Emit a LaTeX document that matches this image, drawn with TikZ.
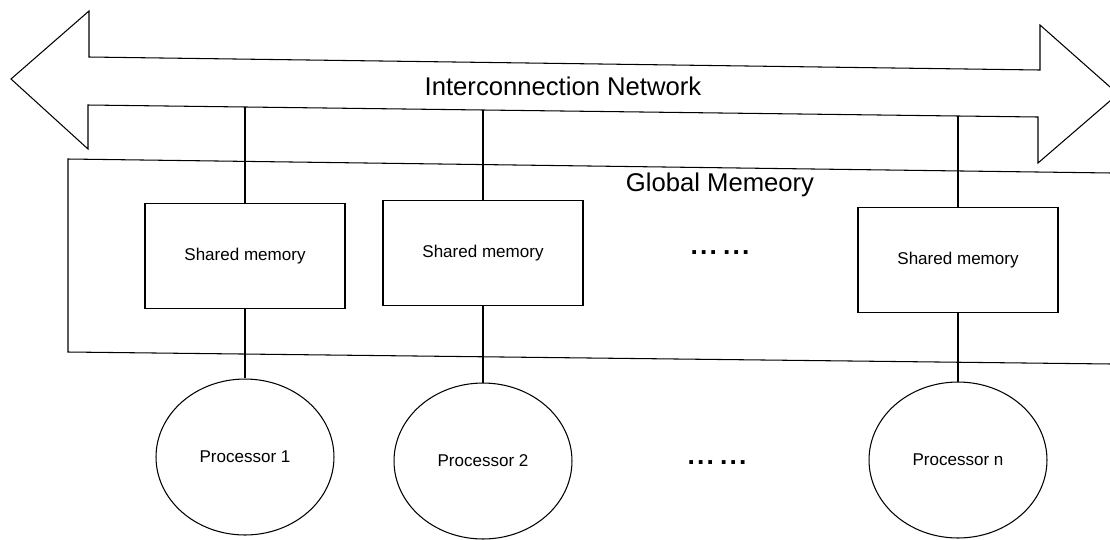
\documentclass[tikz,border=0pt]{standalone}
\usepackage{fontspec}
\setmainfont{Liberation Sans}
\usetikzlibrary{shapes.geometric}

\newcommand{\gapdots}{.\hspace{.08em}.\hspace{.08em}.\hspace{.24em}.\hspace{.08em}.\hspace{.08em}.}

\begin{document}
\begin{tikzpicture}[x=0.02cm,y=-0.02cm,line width=0.6pt,
    memBox/.style={draw,rectangle,minimum width=4cm,minimum height=2.1cm,
      font=\fontsize{9.7}{12}\selectfont},
    procNode/.style={draw,ellipse,minimum width=3.56cm,minimum height=3.12cm,
      font=\fontsize{9.7}{12}\selectfont},
    bigLabel/.style={font=\fontsize{14.6}{17}\selectfont},
    dotsLabel/.style={font=\fontsize{15}{18}\selectfont\bfseries,inner sep=0pt},
    link/.style={line width=0.7pt}]

  \useasboundingbox (0,0) rectangle (1110,539);

  \begin{scope}   % sit (dvojita sipka)

    \coordinate (Lt) at (11,79);
    \coordinate (Rt) at (1118,94);
    \draw (Lt)--(89,11)--(89,57)--(1040,70)--(1040,25)--(Rt)
              --(1038,163)--(1038,117)--(88,105)--(88,149)--cycle;
    \node[bigLabel] (net) at (563,86) {Interconnection Network};

    \coordinate (tap1) at (245,107);
    \coordinate (tap2) at (483,110);
    \coordinate (tapn) at (958,116);

  \end{scope}

  \begin{scope}   % globalni pamet

    \draw (1112,173)--(68,159)--(68,352)--(1112,364);
    \node[bigLabel] (glob) at (720,185) {Global Memeory};

    \node[memBox] (mem1) at (245,256) {Shared memory};
    \node[memBox] (mem2) at (483,253) {Shared memory};
    \node[memBox] (memn) at (958,260) {Shared memory};
    \node[dotsLabel] (dotsm) at (720,253) {\gapdots};

  \end{scope}

  \begin{scope}   % procesory

    \node[procNode] (proc1) at (245,457) {Processor 1};
    \node[procNode] (proc2) at (483,461) {Processor 2};
    \node[procNode] (procn) at (958,460) {Processor n};
    \node[dotsLabel] (dotsp) at (717,463) {\gapdots};

    \draw[link] (tap1)--(mem1.north);
    \draw[link] (tap2)--(mem2.north);
    \draw[link] (tapn)--(memn.north);
    \draw[link] (mem1.south)--(proc1.north);
    \draw[link] (mem2.south)--(proc2.north);
    \draw[link] (memn.south)--(procn.north);

  \end{scope}

\end{tikzpicture}
\end{document}
